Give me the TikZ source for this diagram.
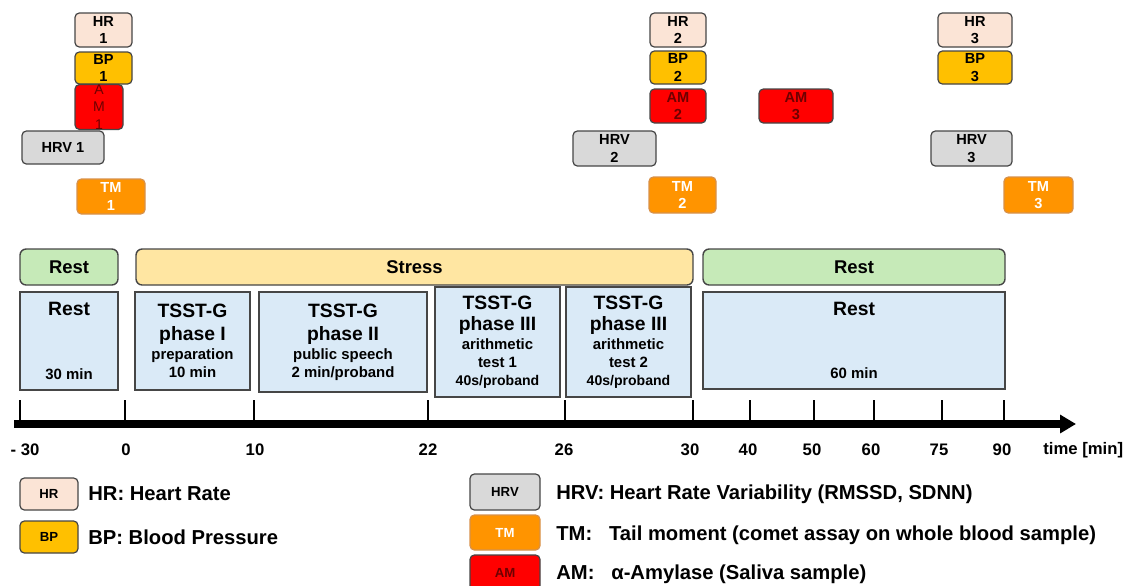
\documentclass[tikz,border=0pt]{standalone}
\usepackage{fontspec}
\setmainfont{Liberation Sans}
\usepackage{tikz}
\usetikzlibrary{arrows.meta}
\definecolor{BoxLine}{RGB}{70,70,70}
\definecolor{HRfill}{RGB}{251,228,214}
\definecolor{BPfill}{RGB}{255,192,0}
\definecolor{AMfill}{RGB}{255,0,0}
\definecolor{AMtext}{RGB}{110,0,0}
\definecolor{HRVfill}{RGB}{217,217,217}
\definecolor{TMfill}{RGB}{255,148,0}
\definecolor{TMline}{RGB}{215,145,75}
\definecolor{RestGreen}{RGB}{198,234,184}
\definecolor{StressYellow}{RGB}{255,230,162}
\definecolor{PhaseBlue}{RGB}{218,234,247}
\newcommand{\tfont}{\fontsize{11}{13}\selectfont}
\newcommand{\sfont}{\fontsize{8}{9.5}\selectfont}
% box from its corners (pixel units)
\newcommand{\pbox}[7]{\node[#2, minimum width={(#5-#3)*0.02cm}, minimum height={(#6-#4)*0.02cm}] (#1) at ({(#3+#5)/2},{(#4+#6)/2}) {#7};}
\tikzset{
  mbox/.style={draw=BoxLine, line width=0.7pt, rounded corners=2.5pt, inner sep=0pt,
    align=center, font=\fontsize{8.3}{10}\selectfont\bfseries},
  hrbox/.style={mbox, fill=HRfill},
  bpbox/.style={mbox, fill=BPfill},
  ambox/.style={mbox, fill=AMfill, text=AMtext},
  hrvbox/.style={mbox, fill=HRVfill},
  tmbox/.style={mbox, fill=TMfill, draw=TMline, text=white},
  legbox/.style={font=\fontsize{7.5}{9}\selectfont\bfseries},
  phasebar/.style={draw=BoxLine, line width=0.8pt, rounded corners=3.5pt, inner sep=0pt,
    font=\fontsize{10.5}{12}\selectfont\bfseries},
  restbar/.style={phasebar, fill=RestGreen},
  stressbar/.style={phasebar, fill=StressYellow},
  stepbox/.style={draw=BoxLine, line width=0.8pt, fill=PhaseBlue, inner sep=0pt, align=center,
    font=\fontsize{8.5}{10}\selectfont\bfseries},
  legtext/.style={anchor=west, inner sep=0pt, font=\fontsize{11.5}{13}\selectfont\bfseries},
  ticklab/.style={font=\fontsize{9.5}{11}\selectfont\bfseries},
  timeaxis/.style={line width=4pt, -{Triangle[length=9pt,width=10pt]}},
}

\begin{document}
\begin{tikzpicture}[x=0.02cm, y=-0.02cm]
  \useasboundingbox (0,0) rectangle (1128,585);
  % measurements
  \pbox{hrA}{hrbox}{75}{13}{132}{47}{HR\\1}
  \pbox{bpA}{bpbox}{75}{52}{132}{84}{BP\\1}
  \pbox{amA}{ambox, font=\fontsize{8}{10}\selectfont}{75}{90}{123}{124}{A\\M\\1}
  \pbox{hrvA}{hrvbox}{22}{131}{104}{164}{HRV 1}
  \pbox{tmA}{tmbox}{77}{179}{145}{214}{TM\\1}
  \pbox{hrB}{hrbox}{650}{13}{706}{47}{HR\\2}
  \pbox{bpB}{bpbox}{650}{51}{706}{84}{BP\\2}
  \pbox{amB}{ambox}{650}{89}{706}{123}{AM\\2}
  \pbox{amC}{ambox}{759}{89}{833}{123}{AM\\3}
  \pbox{hrvB}{hrvbox}{573}{131}{656}{166}{HRV\\2}
  \pbox{tmB}{tmbox}{649}{177}{716}{213}{TM\\2}
  \pbox{hrC}{hrbox}{938}{13}{1012}{47}{HR\\3}
  \pbox{bpC}{bpbox}{938}{51}{1012}{84}{BP\\3}
  \pbox{hrvC}{hrvbox}{931}{131}{1012}{166}{HRV\\3}
  \pbox{tmC}{tmbox}{1004}{177}{1073}{213}{TM\\3}
  % phases
  \pbox{restA}{restbar}{20}{249}{118}{285}{Rest}
  \pbox{stress}{stressbar}{136}{249}{693}{285}{Stress}
  \pbox{restB}{restbar}{703}{249}{1005}{285}{Rest}
  \pbox{stA}{stepbox}{20}{292}{118}{390}{\tfont Rest\\[26pt]30 min}
  \pbox{stB}{stepbox}{135}{292}{250}{390}{\tfont TSST-G\\[3pt]\tfont phase I\\[1pt]preparation\\10 min}
  \pbox{stC}{stepbox}{259}{292}{427}{392}{\tfont TSST-G\\[3pt]\tfont phase II\\[1pt]public speech\\2 min/proband}
  \pbox{stD}{stepbox}{435}{287}{560}{397}{\tfont TSST-G\\[2pt]\tfont phase III\\[1pt]arithmetic\\test 1\\\sfont 40s/proband}
  \pbox{stE}{stepbox}{566}{287}{691}{397}{\tfont TSST-G\\[2pt]\tfont phase III\\[1pt]arithmetic\\test 2\\\sfont 40s/proband}
  \pbox{stF}{stepbox}{703}{292}{1005}{389}{\tfont Rest\\[26pt]60 min}
  % time axis
  \coordinate (t0) at (14,424);
  \coordinate (t1) at (1076,424);
  \foreach \x/\lx/\lab in {20/25/{- 30}, 125/126/0, 254/255/10, 428/428/22, 565/564/26, 693/690/30,
      750/748/40, 814/812/50, 874/871/60, 942/939/75, 1004/1002/90} {
    \draw[line width=0.6pt] (\x,400) -- (\x,424);
    \node[ticklab] at (\lx,450) {\lab};
  }
  \draw[timeaxis] (t0) -- (t1);
  \node[ticklab, anchor=west, inner sep=0pt] (tlab) at (1043,450) {time [min]};
  % legend
  \pbox{lgHR}{hrbox, legbox}{20}{478}{78}{510}{HR}
  \pbox{lgBP}{bpbox, legbox}{20}{521}{78}{553}{BP}
  \pbox{lgHRV}{hrvbox, legbox}{470}{474}{540}{510}{HRV}
  \pbox{lgTM}{tmbox, legbox}{470}{515}{540}{550}{TM}
  \pbox{lgAM}{ambox, legbox}{470}{555}{540}{590}{AM}
  \node[legtext] at (88,494) {HR: Heart Rate};
  \node[legtext] at (88,537) {BP: Blood Pressure};
  \node[legtext] at (556,494) {HRV: Heart Rate Variability (RMSSD, SDNN)};
  \node[legtext] at (556,535) {TM:\ \ \ Tail moment (comet assay on whole blood sample)};
  \node[legtext] at (556,574) {AM:\ \ \ α-Amylase (Saliva sample)};
\end{tikzpicture}
\end{document}
